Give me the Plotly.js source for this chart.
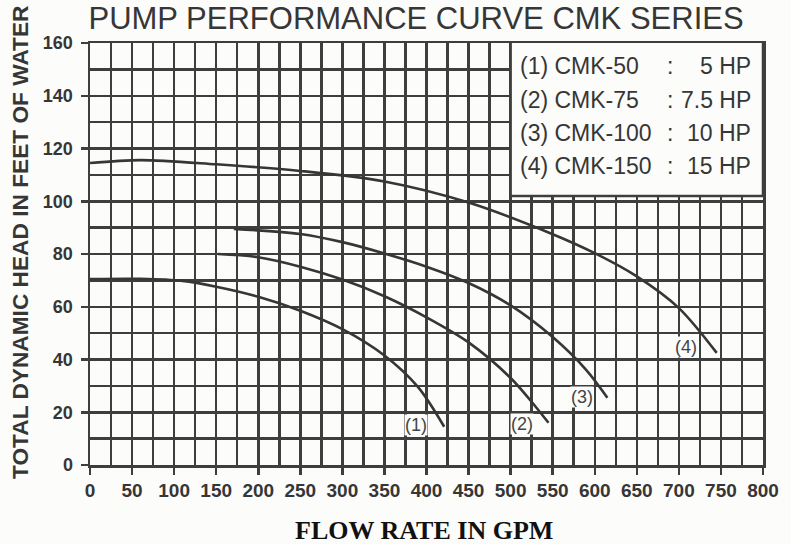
<!DOCTYPE html>
<html>
<head>
<meta charset="utf-8">
<script src="https://cdn.plot.ly/plotly-3.0.1.min.js"></script>
<style>
html,body{margin:0;padding:0;background:#fcfcfa;}
#chart{width:791px;height:544px;}
</style>
</head>
<body>
<div id="chart"></div>
<script>
// Curve data (flow in GPM, head in feet)
const cmk50Flow  = [0, 60, 110, 150, 200, 250, 300, 350, 390, 421];
const cmk50Head  = [70.5, 70.6, 69.8, 67.6, 63.8, 58.5, 51.5, 41.5, 29.5, 14.5];
const cmk75Flow  = [152, 200, 250, 300, 350, 400, 450, 500, 530, 545];
const cmk75Head  = [80, 78.8, 75.2, 70.3, 64, 56, 46.5, 33, 22, 16];
const cmk100Flow = [171, 250, 300, 350, 400, 450, 500, 550, 590, 615];
const cmk100Head = [89.5, 87.6, 84.5, 80.2, 75.2, 69, 60.5, 48.5, 36, 25.5];
const cmk150Flow = [0, 60, 150, 250, 350, 450, 550, 600, 650, 700, 745];
const cmk150Head = [114.5, 115.6, 114, 111.5, 107.5, 99.5, 87.5, 80.3, 71.5, 59.5, 42.5];

const curveLabels = ["(1)", "(2)", "(3)", "(4)"];
const curveLabelX = [388, 514, 585, 709];
const curveLabelY = [15, 15.5, 25.8, 44.7];

const legendModels = ["(1) CMK-50", "(2) CMK-75", "(3) CMK-100", "(4) CMK-150"];
const legendPower  = ["5 HP", "7.5 HP", "10 HP", "15 HP"];

const titleText = "PUMP PERFORMANCE CURVE CMK SERIES";
const yTitleText = "TOTAL DYNAMIC HEAD IN FEET OF WATER";
const xTitleText = "FLOW RATE IN GPM";

const ink = "#363636";
const gridInk = "#3e3e3e";
const bg = "#fcfcfa";

const flows = [cmk50Flow, cmk75Flow, cmk100Flow, cmk150Flow];
const heads = [cmk50Head, cmk75Head, cmk100Head, cmk150Head];

const traces = flows.map((f, i) => ({
  x: f, y: heads[i], type: "scatter", mode: "lines",
  line: {color: ink, width: 2.6, shape: "spline", smoothing: 0.9},
  hoverinfo: "skip", showlegend: false
}));
// invisible helper trace so the fine-grid axes are drawn
traces.push({x: [0], y: [0], xaxis: "x2", yaxis: "y2", type: "scatter", mode: "markers",
  marker: {opacity: 0}, hoverinfo: "skip", showlegend: false});

// helpers px -> paper
const L = 90, T = 43, W = 673, H = 422;
const px2x = p => (p - L) / W;
const py2y = p => (T + H - p) / H;

const annotations = [];
curveLabels.forEach((t, i) => annotations.push({
  x: curveLabelX[i], y: curveLabelY[i], xref: "x", yref: "y",
  text: t, showarrow: false, bgcolor: bg, borderpad: 0,
  font: {family: "Liberation Sans, Arial", size: 18, color: "#444"}
}));
const legY = [66, 100, 133, 166];
legendModels.forEach((t, i) => {
  annotations.push({x: px2x(518), y: py2y(legY[i]), xref: "paper", yref: "paper",
    xanchor: "left", yanchor: "middle", text: t, showarrow: false,
    font: {family: "Liberation Sans, Arial", size: 23, color: ink}});
  annotations.push({x: px2x(670), y: py2y(legY[i]), xref: "paper", yref: "paper",
    xanchor: "center", yanchor: "middle", text: ":", showarrow: false,
    font: {family: "Liberation Sans, Arial", size: 23, color: ink}});
  annotations.push({x: px2x(753), y: py2y(legY[i]), xref: "paper", yref: "paper",
    xanchor: "right", yanchor: "middle", text: legendPower[i], showarrow: false,
    font: {family: "Liberation Sans, Arial", size: 23, color: ink}});
});
annotations.push({x: px2x(20), y: py2y(242), xref: "paper", yref: "paper",
  xanchor: "center", yanchor: "middle", textangle: -90, text: yTitleText, showarrow: false,
  font: {family: "Liberation Sans, Arial", size: 22.7, color: ink, weight: "bold"}});
annotations.push({x: px2x(424), y: py2y(530), xref: "paper", yref: "paper",
  xanchor: "center", yanchor: "middle", text: xTitleText, showarrow: false,
  font: {family: "Liberation Serif, Times New Roman", size: 26, color: "#111", weight: "bold"}});

const axisCommon = {
  showgrid: true, gridcolor: gridInk, gridwidth: 2.5,
  showline: true, linecolor: gridInk, linewidth: 2.5, mirror: true,
  zeroline: false, ticks: "outside", ticklen: 7, tickwidth: 2.5, tickcolor: gridInk,
  fixedrange: true
};
const fineCommon = {
  showgrid: true, gridcolor: gridInk, gridwidth: 2.5,
  showline: false, zeroline: false, ticks: "", showticklabels: false, fixedrange: true
};

const layout = {
  width: 791, height: 544,
  margin: {l: L, r: 791 - L - W, t: T, b: 544 - T - H},
  paper_bgcolor: bg, plot_bgcolor: bg,
  title: {text: titleText, xref: "container", yref: "container", x: 0.526, y: 1 - 18/544,
    xanchor: "center", yanchor: "middle",
    font: {family: "Liberation Sans, Arial", size: 31, color: ink}},
  xaxis: Object.assign({}, axisCommon, {
    range: [0, 800], tick0: 0, dtick: 50,
    tickfont: {family: "Liberation Sans, Arial", size: 19, color: ink, weight: "bold"}
  }),
  yaxis: Object.assign({}, axisCommon, {
    range: [0, 160], tick0: 0, dtick: 20,
    tickfont: {family: "Liberation Sans, Arial", size: 18, color: ink, weight: "bold"},
    ticklabelstandoff: 4
  }),
  xaxis2: Object.assign({}, fineCommon, {overlaying: "x", side: "bottom", range: [0, 800], tick0: 0, dtick: 25}),
  yaxis2: Object.assign({}, fineCommon, {overlaying: "y", side: "left", range: [0, 160], tick0: 0, dtick: 10}),
  shapes: [{type: "rect", xref: "x", yref: "y", x0: 500, x1: 800, y0: 102, y1: 160.5,
    fillcolor: bg, line: {color: gridInk, width: 2.5}, layer: "above"}],
  annotations: annotations,
  showlegend: false
};

Plotly.newPlot("chart", traces, layout, {displayModeBar: false, staticPlot: true});
</script>
</body>
</html>
